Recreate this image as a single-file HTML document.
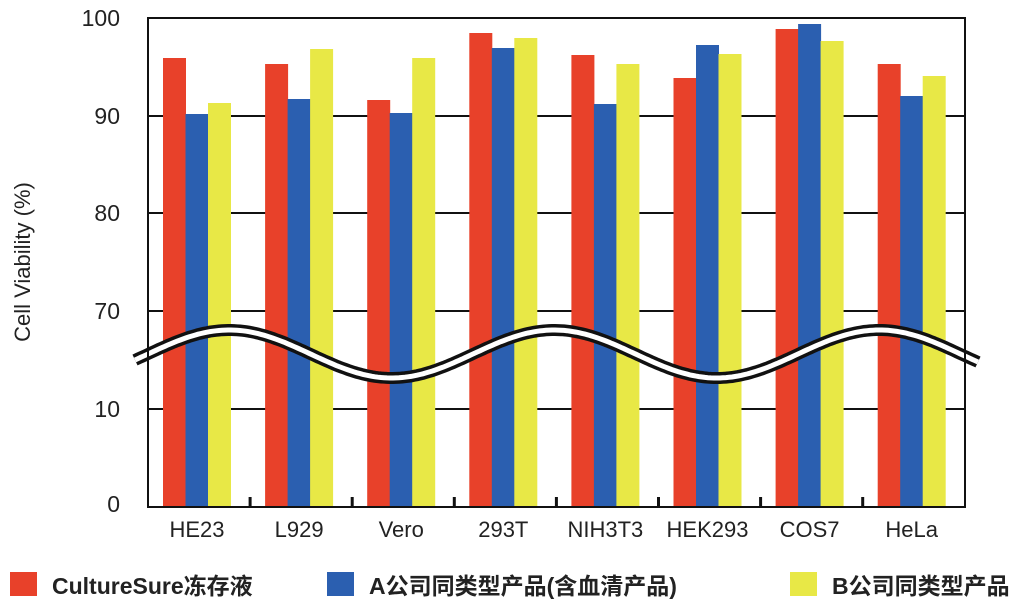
<!DOCTYPE html><html><head><meta charset="utf-8"><style>body{margin:0;background:#fff}svg{display:block}text{font-family:"Liberation Sans","Noto Sans CJK SC",sans-serif;fill:#222}</style></head><body>
<svg width="1032" height="608" viewBox="0 0 1032 608">
<g stroke="#111" stroke-width="2">
<line x1="148" y1="116" x2="965" y2="116"/><line x1="148" y1="213" x2="965" y2="213"/><line x1="148" y1="311" x2="965" y2="311"/><line x1="148" y1="409" x2="965" y2="409"/>
</g>
<g id="bars"></g>
<path id="wave" d="" fill="none"/>
<rect x="148" y="18" width="817" height="489" fill="none" stroke="#111" stroke-width="2"/>
<g stroke="#111" stroke-width="3" id="ticks"></g>
<g font-size="23" text-anchor="end">
<text x="120" y="26">100</text><text x="120" y="124">90</text><text x="120" y="221">80</text><text x="120" y="319">70</text><text x="120" y="417">10</text><text x="120" y="512">0</text>
</g>
<text x="30" y="262" font-size="22" text-anchor="middle" transform="rotate(-90 30 262)">Cell Viability (%)</text>
<g font-size="22" text-anchor="middle" id="xl"></g>
<rect x="10" y="572" width="27" height="24" fill="#e8412a"/><text x="52" y="594" font-size="23" font-weight="600">CultureSure冻存液</text>
<rect x="327" y="572" width="27" height="24" fill="#2b5fb0"/><text x="369" y="594" font-size="23" font-weight="600">A公司同类型产品(含血清产品)</text>
<rect x="790" y="572" width="27" height="24" fill="#e8e846"/><text x="832" y="594" font-size="23" font-weight="600">B公司同类型产品</text>
<script>
var tops=[[58,114,103],[64,99,49],[100,113,58],[33,48,38],[55,104,64],[78,45,54],[29,24,41],[64,96,76]];
var names=["HE23","L929","Vero","293T","NIH3T3","HEK293","COS7","HeLa"];
var cols=["#e8412a","#2b5fb0","#e8e846"];var ns="http://www.w3.org/2000/svg";
var b=document.getElementById("bars"),xl=document.getElementById("xl"),tk=document.getElementById("ticks");
for(var i=0;i<8;i++){var x0=148+i*102.1+15;for(var j=0;j<3;j++){var r=document.createElementNS(ns,"rect");r.setAttribute("x",x0+j*22.5);r.setAttribute("y",tops[i][j]);r.setAttribute("width",23);r.setAttribute("height",507-tops[i][j]);r.setAttribute("fill",cols[j]);b.appendChild(r);}
var t=document.createElementNS(ns,"text");t.setAttribute("x",x0+34);t.setAttribute("y",537);t.textContent=names[i];xl.appendChild(t);
if(i>0){var l=document.createElementNS(ns,"line");var xx=148+i*102.1;l.setAttribute("x1",xx);l.setAttribute("x2",xx);l.setAttribute("y1",497);l.setAttribute("y2",507);tk.appendChild(l);}}
var d="";for(var x=135;x<=978;x+=3){var y=354-24*Math.sin((x-148)/325*2*Math.PI);d+=(x==135?"M":"L")+x+" "+y.toFixed(1);}
var w=document.getElementById("wave");
var p1=document.createElementNS(ns,"path");p1.setAttribute("d",d);p1.setAttribute("stroke","#111");p1.setAttribute("stroke-width","12");p1.setAttribute("fill","none");
var p2=document.createElementNS(ns,"path");p2.setAttribute("d",d);p2.setAttribute("stroke","#fff");p2.setAttribute("stroke-width","5");p2.setAttribute("fill","none");
w.parentNode.insertBefore(p1,w);w.parentNode.insertBefore(p2,w);
</script>
</svg></body></html>
